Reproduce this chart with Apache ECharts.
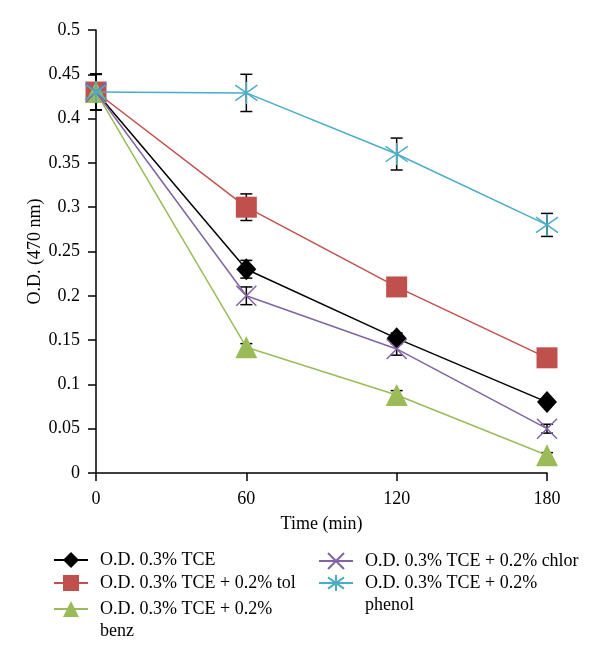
<!DOCTYPE html>
<html>
<head>
<meta charset="utf-8">
<script src="https://cdn.jsdelivr.net/npm/echarts@6/dist/echarts.min.js"></script>
<style>html,body{margin:0;padding:0;background:#fff;}#c{width:600px;height:663px;}</style>
</head>
<body>
<div id="c"></div>
<script>
const times = [0, 60, 120, 180];
const xTicks = [0, 60, 120, 180];
const names = [
  'O.D. 0.3% TCE',
  'O.D. 0.3% TCE + 0.2% tol',
  'O.D. 0.3% TCE + 0.2% benz',
  'O.D. 0.3% TCE + 0.2% chlor',
  'O.D. 0.3% TCE + 0.2% phenol'
];
const tce    = [0.43, 0.23, 0.152, 0.08];
const tol    = [0.43, 0.30, 0.21, 0.13];
const benz   = [0.43, 0.142, 0.088, 0.02];
const chlor  = [0.43, 0.20, 0.14, 0.05];
const phenol = [0.43, 0.429, 0.36, 0.28];
const tceErr    = [0.02, 0.01, 0.006, 0.004];
const tolErr    = [0.02, 0.015, 0.005, 0.005];
const benzErr   = [0.02, 0.004, 0.005, 0.003];
const chlorErr  = [0.02, 0.01, 0.007, 0.005];
const phenolErr = [0.02, 0.021, 0.018, 0.013];

const colors = ['#000000', '#C0504D', '#9BBB59', '#8064A2', '#4BACC6'];
const FONT = 'Liberation Serif';
const values = [tce, tol, benz, chlor, phenol];
const errs = [tceErr, tolErr, benzErr, chlorErr, phenolErr];

const symX = 'path://M0,0L10,10M10,0L0,10';
const symAst = 'path://M0,1.5L10,8.5M10,1.5L0,8.5M5,0L5,10';
const symbols = ['diamond', 'rect', 'triangle', symX, symAst];
const sizes = [[20, 22], 21, 22, 20, 22];

const series = values.map((v, i) => {
  const stroked = i >= 3;
  return {
    name: names[i],
    type: 'line',
    data: times.map((t, k) => [t, v[k]]),
    symbol: symbols[i],
    symbolSize: sizes[i],
    clip: false,
    z: 3 + i * 0.01,
    lineStyle: { color: colors[i], width: 1.5 },
    itemStyle: stroked
      ? { color: 'rgba(0,0,0,0)', borderColor: colors[i], borderWidth: 1.5 }
      : { color: colors[i], borderWidth: 0 },
    emphasis: { disabled: true }
  };
});

const errData = [];
values.forEach((v, i) => {
  times.forEach((t, k) => errData.push([t, v[k] - errs[i][k], v[k] + errs[i][k]]));
});
series.push({
  type: 'custom',
  z: 1,
  silent: true,
  data: errData,
  renderItem: function (params, api) {
    const x = api.value(0);
    const lo = api.coord([x, api.value(1)]);
    const hi = api.coord([x, api.value(2)]);
    const w = 6;
    const st = { stroke: '#000', lineWidth: 1.5 };
    return {
      type: 'group',
      children: [
        { type: 'line', shape: { x1: lo[0], y1: lo[1], x2: hi[0], y2: hi[1] }, style: st },
        { type: 'line', shape: { x1: lo[0] - w, y1: lo[1], x2: lo[0] + w, y2: lo[1] }, style: st },
        { type: 'line', shape: { x1: hi[0] - w, y1: hi[1], x2: hi[0] + w, y2: hi[1] }, style: st }
      ]
    };
  }
});

function mkLegend(name, left, top, label) {
  return {
    data: [name],
    left: left,
    top: top,
    orient: 'vertical',
    padding: 0,
    itemWidth: 34,
    itemHeight: 20,
    selectedMode: false,
    formatter: function () { return label; },
    textStyle: {
      fontFamily: FONT,
      fontSize: 18,
      color: '#000',
      lineHeight: 22,
      padding: [0, 0, 0, 7]
    }
  };
}

const option = {
  animation: false,
  backgroundColor: '#fff',
  grid: { left: 96, right: 53, top: 30, bottom: 190, containLabel: false },
  xAxis: {
    type: 'value', min: 0, max: 180, interval: 60,
    name: 'Time (min)', nameLocation: 'middle', nameGap: 42,
    nameTextStyle: { fontFamily: FONT, fontSize: 18, color: '#000' },
    axisLine: { onZero: false, lineStyle: { color: '#000', width: 1.5 } },
    axisTick: { show: true, length: 8, lineStyle: { color: '#000', width: 1.5 } },
    axisLabel: {
      margin: 17, fontFamily: FONT, fontSize: 18, color: '#000',
      formatter: function (v) { return xTicks.indexOf(v) >= 0 ? String(v) : ''; }
    },
    splitLine: { show: false }
  },
  yAxis: {
    type: 'value', min: 0, max: 0.5, interval: 0.05,
    name: 'O.D. (470 nm)', nameLocation: 'middle', nameGap: 52,
    nameMoveOverlap: false,
    nameTextStyle: { fontFamily: FONT, fontSize: 18, color: '#000' },
    axisLine: { show: true, lineStyle: { color: '#000', width: 1.5 } },
    axisTick: { show: true, length: 8, lineStyle: { color: '#000', width: 1.5 } },
    axisLabel: {
      margin: 16, fontFamily: FONT, fontSize: 18, color: '#000',
      formatter: function (v) { return String(Math.round(v * 100) / 100); }
    },
    splitLine: { show: false }
  },
  legend: [
    mkLegend(names[0], 53, 549, 'O.D. 0.3% TCE'),
    mkLegend(names[1], 53, 572, 'O.D. 0.3% TCE + 0.2% tol'),
    mkLegend(names[2], 53, 576, '\nO.D. 0.3% TCE + 0.2%\nbenz'),
    mkLegend(names[3], 318, 550, 'O.D. 0.3% TCE + 0.2% chlor'),
    mkLegend(names[4], 318, 550, '\nO.D. 0.3% TCE + 0.2%\nphenol')
  ],
  series: series
};

const chart = echarts.init(document.getElementById('c'), null, { renderer: 'canvas' });
chart.setOption(option);
</script>
</body>
</html>
